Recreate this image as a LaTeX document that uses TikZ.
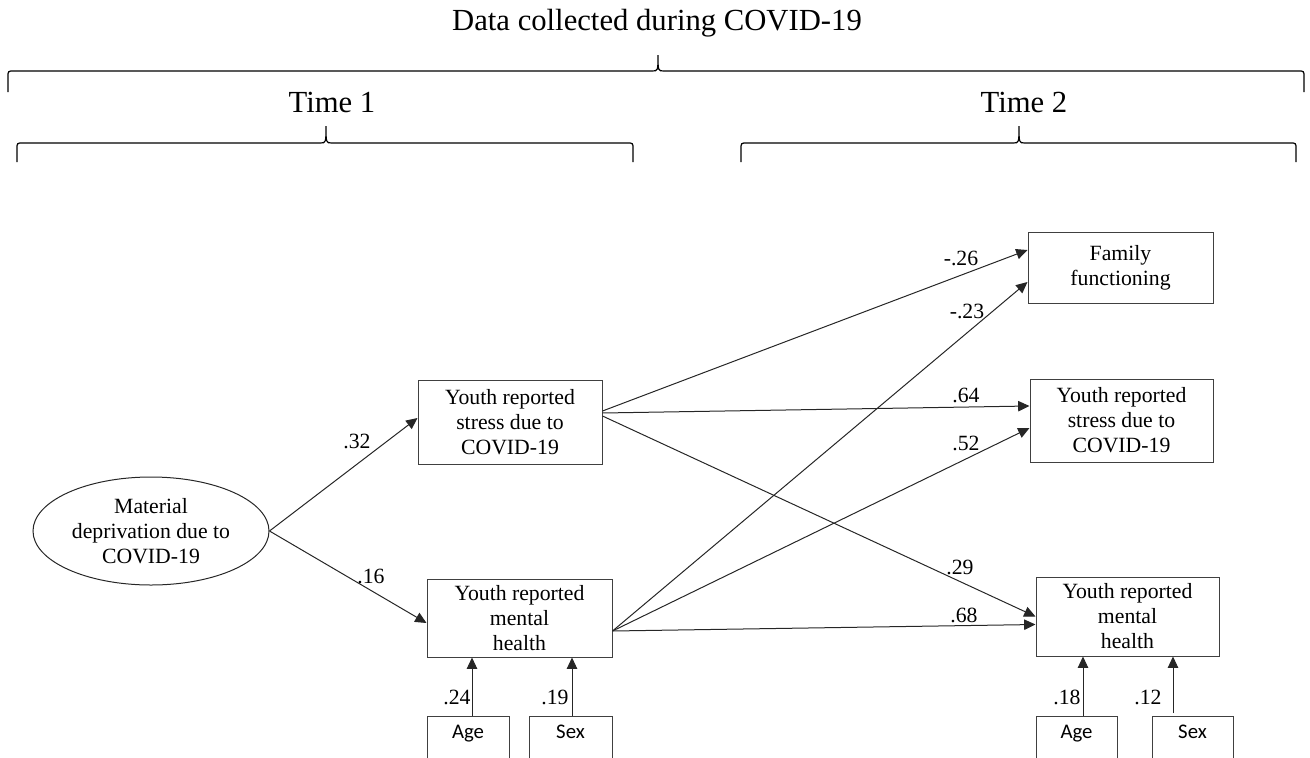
\documentclass[tikz,border=0pt]{standalone}
\usepackage{fontspec}
\setmainfont{Liberation Serif}
\newfontfamily\calib{Carlito}
\usetikzlibrary{arrows.meta,shapes.geometric,calc}
% #1 x-left, #2 x-right, #3 x-tip, #4 y-line, #5 y-ends, #6 y-tip
\newcommand\tbrace[6]{%
  \draw[bracestyle] (#1,#5) -- (#1,{#4+6}) .. controls (#1,#4) .. ({#1+6},#4)
    -- ({#3-6},#4) .. controls (#3,#4) .. (#3,#6)
    .. controls (#3,#4) .. ({#3+6},#4) -- ({#2-6},#4)
    .. controls (#2,#4) .. (#2,{#4+6}) -- (#2,#5);}
\begin{document}
\begin{tikzpicture}[x=0.75pt,y=-0.75pt,line width=0.75pt,
  bracestyle/.style={draw=black,line width=0.9pt},
  head/.style={font=\fontsize{23}{26}\selectfont,anchor=base,inner sep=0pt},
  box/.style={draw=black!75,rectangle,align=center,inner sep=0pt,
    font=\fontsize{16.3}{18.75}\selectfont},
  oval/.style={draw=black!85,ellipse,align=center,inner sep=0pt,
    minimum width=177pt,minimum height=81pt,
    font=\fontsize{16.3}{18.75}\selectfont},
  small/.style={draw=black!75,rectangle,anchor=north,inner sep=0pt,
    minimum height=45pt,
    label={[font=\calib\fontsize{15.6}{18}\selectfont,anchor=north,yshift=-3pt]north:#1}},
  coef/.style={font=\fontsize{16.3}{18.75}\selectfont,inner sep=0pt},
  arr/.style={draw=black!85,-{Triangle[length=8.5pt,width=7.8pt]}}
]
\useasboundingbox (0,0) rectangle (1310,757);
\clip (0,0) rectangle (1310,757);

% headings and braces
\node[head] (title) at (657,30) {Data collected during COVID-19};
\node[head] (t1) at (332,112) {Time 1};
\node[head] (t2) at (1024,112) {Time 2};
\tbrace{8}{1304}{658}{71}{92}{55}
\tbrace{17}{633}{326}{143}{162}{126}
\tbrace{741}{1296}{1019}{143}{162}{126}

% nodes
\node[oval] (md) at (151,531) {Material\\deprivation due to\\COVID-19};
\node[box,minimum width=138pt,minimum height=63pt] (st1) at (510,422)
  {Youth reported\\stress due to\\COVID-19};
\node[box,minimum width=138.75pt,minimum height=58.5pt] (mh1) at (519.5,618)
  {Youth reported\\mental\\health};
\node[box,minimum width=138.75pt,minimum height=53.25pt] (fam) at (1120.5,267.5)
  {Family\\functioning};
\node[box,minimum width=137.25pt,minimum height=62.25pt] (st2) at (1121.5,420.5)
  {Youth reported\\stress due to\\COVID-19};
\node[box,minimum width=137.25pt,minimum height=59.25pt] (mh2) at (1127.5,616.5)
  {Youth reported\\mental\\health};
\node[small=Age,minimum width=61.5pt] (age1) at (468,716) {};
\node[small=Sex,minimum width=62.25pt] (sex1) at (570.5,716) {};
\node[small=Age,minimum width=60.75pt] (age2) at (1076.5,716) {};
\node[small=Sex,minimum width=60.75pt] (sex2) at (1192.5,716) {};

% arrow start points on the covariate boxes
\coordinate (pa1) at ($(age1.north)+(4,0)$);
\coordinate (ps1) at ($(sex1.north)+(1.5,0)$);
\coordinate (pa2) at ($(age2.north)+(6.5,0)$);
\coordinate (ps2) at ($(sex2.north)+(-19.5,-3)$);

% connectors
\draw[arr] (md.east) -- ($(st1.west)+(0,-4)$);
\draw[arr] (md.east) -- ($(mh1.west)+(0,5)$);
\draw[arr] ($(st1.east)+(0,-11)$) -- ($(fam.west)+(0,-17.5)$);
\draw[arr] ($(st1.east)+(0,-9)$) -- ($(st2.west)+(0,-14.5)$);
\draw[arr] ($(st1.east)+(0,-6)$) -- ($(mh2.west)+(0,0)$);
\draw[arr] ($(mh1.east)+(0,13)$) -- ($(fam.west)+(0,14.5)$);
\draw[arr] ($(mh1.east)+(0,13)$) -- ($(st2.west)+(0,7.5)$);
\draw[arr] ($(mh1.east)+(0,13)$) -- ($(mh2.west)+(0,8)$);
\draw[arr] (pa1) -- (pa1 |- mh1.south);
\draw[arr] (ps1) -- (ps1 |- mh1.south);
\draw[arr] (pa2) -- (pa2 |- mh2.south);
\draw[arr] (ps2) -- (ps2 |- mh2.south);

% coefficients
\node[coef] (c32) at (357,441) {.32};
\node[coef] (c16) at (371,576) {.16};
\node[coef] (c26) at (961,258) {-.26};
\node[coef] (c23) at (967,311) {-.23};
\node[coef] (c64) at (966,395) {.64};
\node[coef] (c52) at (966,443) {.52};
\node[coef] (c29) at (960,567) {.29};
\node[coef] (c68) at (964,615) {.68};
\node[coef] (c24) at (457,697) {.24};
\node[coef] (c19) at (555,697) {.19};
\node[coef] (c18) at (1067,697) {.18};
\node[coef] (c12) at (1148,697) {.12};
\end{tikzpicture}
\end{document}
